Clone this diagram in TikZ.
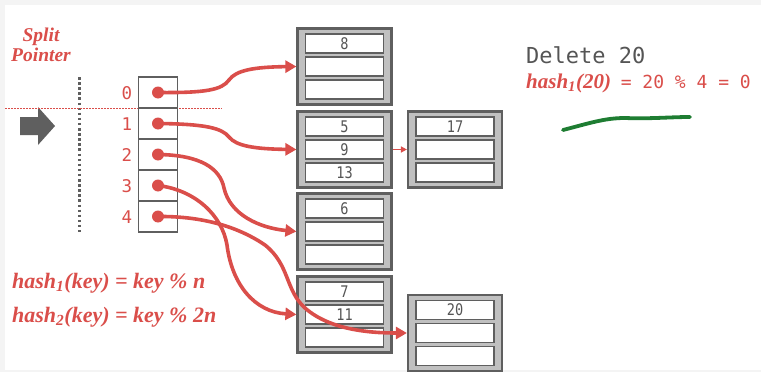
\documentclass[tikz,border=0pt]{standalone}
\usepackage{fontspec}
\setmainfont{Liberation Serif}
\newfontfamily\monofont{DejaVu Sans Mono}
\newfontfamily\numfont[FakeStretch=0.85]{DejaVu Sans Mono}
\usetikzlibrary{arrows.meta}
\definecolor{myred}{RGB}{218,78,74}
\definecolor{dgray}{RGB}{95,95,95}
\definecolor{bfill}{RGB}{192,192,192}
\definecolor{tgray}{RGB}{85,85,85}
\definecolor{mygreen}{RGB}{30,125,50}
\definecolor{edgegray}{RGB}{244,244,244}
\tikzset{
  bucketbox/.style={draw=dgray, fill=bfill, line width=2.2pt, minimum width=94pt, minimum height=76pt, inner sep=0pt},
  slotbox/.style={draw=dgray, fill=white, line width=1.5pt, minimum width=78pt, minimum height=19pt, inner sep=0pt, font={\numfont\fontsize{16}{16}\selectfont}, text=tgray},
  dircell/.style={draw=dgray, line width=1.5pt, minimum width=39pt, minimum height=31pt, inner sep=0pt},
  idx/.style={font={\monofont\fontsize{17.5}{17.5}\selectfont}, text=myred},
  ptr/.style={draw=myred, line width=3.6pt, -{Triangle[length=11pt,width=12pt]}},
  hashfont/.style={font={\bfseries\itshape\fontsize{22}{22}\selectfont}, text=myred},
}
\newcommand\mkbucket[5]{%
  \node[bucketbox] (#1) at (#2) {};
  \node[slotbox] (#1-a) at ([yshift=23pt]#1.center) {#3};
  \node[slotbox] (#1-b) at (#1.center) {#4};
  \node[slotbox] (#1-c) at ([yshift=-23pt]#1.center) {#5};
}
\begin{document}
\begin{tikzpicture}[x=1pt,y=-1pt]
\fill[edgegray] (0,0) rectangle (761,372);
\fill[white] (5,5) rectangle (761,370);
\useasboundingbox (0,0) rectangle (761,372);

% split pointer
\node[font={\bfseries\itshape\fontsize{19.5}{20}\selectfont}, text=myred, align=center] (sp) at (41,45) {Split\\Pointer};
\fill[dgray] (20,117) -- (38,117) -- (38,107) -- (55,126) -- (38,145) -- (38,135) -- (20,135) -- cycle;
\draw[dgray, line width=3pt, dash pattern=on 2.5pt off 2.6pt] (79,77) -- (79,232);
\draw[myred, line width=1pt, dash pattern=on 1.5pt off 1.5pt] (5,108) -- (222,108);

% buckets
\mkbucket{b0}{344.5,66.5}{8}{}{}
\mkbucket{b1}{344.5,149.5}{5}{9}{13}
\mkbucket{ov}{455,149.5}{17}{}{}
\mkbucket{b2}{344.5,231.5}{6}{}{}
\mkbucket{b3}{344.5,314.5}{7}{11}{}
\mkbucket{b20}{455,333}{20}{}{}

% directory
\node[dircell] (d0) at (158,92.5) {};
\node[dircell] (d1) at (158,123.5) {};
\node[dircell] (d2) at (158,154.5) {};
\node[dircell] (d3) at (158,185.5) {};
\node[dircell] (d4) at (158,216.5) {};
\node[idx] (l0) at (127,93) {0};
\node[idx] (l1) at (127,124) {1};
\node[idx] (l2) at (127,155) {2};
\node[idx] (l3) at (127,186) {3};
\node[idx] (l4) at (127,217) {4};

% pointers
\draw[ptr] (d0.center) .. controls (205,93) and (222,90) .. (229,80) .. controls (236,70) and (255,67) .. (b0.west);
\draw[ptr] (d1.center) .. controls (205,124) and (222,128) .. (229,137) .. controls (236,146) and (255,149) .. (b1.west);
\draw[ptr] (d2.center) .. controls (200,155) and (220,168) .. (224,188) .. controls (230,215) and (260,228) .. (b2.west);
\draw[ptr] (d3.center) .. controls (195,190) and (222,215) .. (227,245) .. controls (232,285) and (255,312) .. (b3.west);
\draw[ptr] (d4.center) .. controls (205,216) and (240,228) .. (265,245) .. controls (290,265) and (285,290) .. (305,308) .. controls (330,330) and (370,333) .. (b20.west);
\draw[myred, line width=1.6pt, -{Triangle[length=6pt,width=6pt]}] (b1.east) -- (ov.west);

\foreach \i in {0,...,4} {\fill[myred] (d\i.center) circle (6pt);}

% formulas
\node[anchor=base west, inner sep=0pt, hashfont] (f1) at (12,288) {hash\textsubscript{1}(key) = key \% n};
\node[anchor=base west, inner sep=0pt, hashfont] (f2) at (12,322) {hash\textsubscript{2}(key) = key \% 2n};

% delete text
\node[anchor=base west, inner sep=0pt, font={\monofont\fontsize{22}{22}\selectfont}, text=tgray] (del) at (526,63) {Delete 20};
\node[anchor=base west, inner sep=0pt, font={\bfseries\itshape\fontsize{21}{21}\selectfont}, text=myred] (h20) at (526,88) {hash\textsubscript{1}(20)};
\node[anchor=base east, inner sep=0pt, font={\monofont\fontsize{18}{18}\selectfont}, text=myred] (h20b) at (751,88) {= 20 \% 4 = 0};
\draw[mygreen, line width=3.8pt, line cap=round] (563,130) .. controls (590,123) and (605,118) .. (625,118) .. controls (650,119) and (670,117) .. (690,117);
\end{tikzpicture}
\end{document}
